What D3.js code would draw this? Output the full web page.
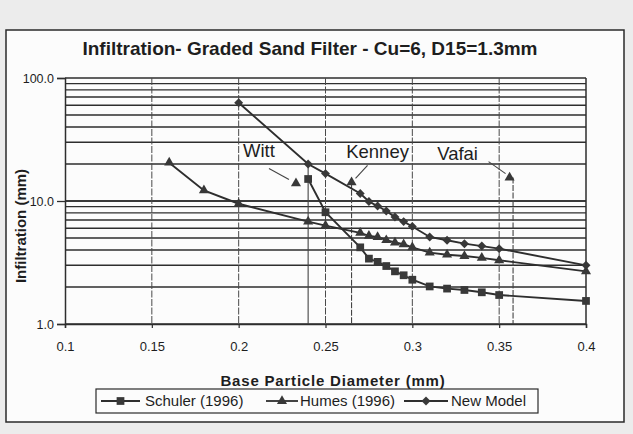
<!DOCTYPE html>
<html>
<head>
<meta charset="utf-8">
<script src="https://cdn.jsdelivr.net/npm/d3@7/dist/d3.min.js"></script>
<style>
    body { margin: 0; background: #ececec; }
    text { font-family: "Liberation Sans", Arial, sans-serif; fill: #1e1e1e; }
</style>
</head>
<body>
<svg id="chart" width="633" height="434"></svg>
<script>
(function(){
    "use strict";

    // values
    var schulerX = [0.24, 0.25, 0.27, 0.275, 0.28, 0.285, 0.29, 0.295, 0.30, 0.31, 0.32, 0.33, 0.34, 0.35, 0.40];
    var schulerY = [15.1, 8.1, 4.2, 3.4, 3.2, 2.96, 2.68, 2.49, 2.29, 2.02, 1.94, 1.89, 1.81, 1.72, 1.54];
    var humesX = [0.16, 0.18, 0.20, 0.24, 0.25, 0.27, 0.275, 0.28, 0.285, 0.29, 0.295, 0.30, 0.31, 0.32, 0.33, 0.34, 0.35, 0.40];
    var humesY = [20.5, 12.2, 9.5, 6.8, 6.3, 5.5, 5.2, 5.1, 4.8, 4.6, 4.45, 4.2, 3.8, 3.66, 3.57, 3.45, 3.3, 2.68];
    var modelX = [0.20, 0.24, 0.25, 0.27, 0.275, 0.28, 0.285, 0.29, 0.295, 0.30, 0.31, 0.32, 0.33, 0.34, 0.35, 0.40];
    var modelY = [63, 20, 16.7, 11.5, 9.9, 9.1, 8.3, 7.4, 6.8, 6.2, 5.1, 4.8, 4.5, 4.3, 4.1, 3.0];

    var noteNames = ["Witt", "Kenney", "Vafai"];
    var noteX = [0.233, 0.265, 0.356];
    var noteY = [13.9, 14.2, 15.5];
    var dropX = [0.24, 0.265, 0.358];
    var dropY = [20, 14.2, 15.5];

    var xTicks = [0.1, 0.15, 0.2, 0.25, 0.3, 0.35, 0.4];
    var xGrid = [0.15, 0.2, 0.25, 0.3, 0.35];
    var yTicks = [1, 10, 100];
    var seriesNames = ["Schuler (1996)", "Humes (1996)", "New Model"];

    var svg = d3.select("#chart");
    var ink = "#2e2e2e";

    // chart frame
    svg.append("rect")
        .attr("x", 6).attr("y", 30).attr("width", 618).attr("height", 392)
        .attr("fill", "#fcfcfc").attr("stroke", "#2a2a2a").attr("stroke-width", 1.5);

    var x = d3.scaleLinear().domain([0.1, 0.4]).range([65, 586]);
    var y = d3.scaleLog().domain([1, 100]).range([324, 78]);

    // horizontal grid, every minor log step
    var yGrid = [];
    [1, 10].forEach(function(dec) {
        for (var k = 1; k <= 10; k++) { yGrid.push(dec * k); }
    });
    svg.append("g").selectAll("line")
        .data(yGrid)
        .enter()
        .append("line")
        .attr("x1", x(0.1)).attr("x2", x(0.4))
        .attr("y1", function(d) { return y(d); })
        .attr("y2", function(d) { return y(d); })
        .attr("stroke", ink)
        .attr("stroke-width", 1.4);

    svg.append("g").selectAll("line")
        .data(xGrid)
        .enter()
        .append("line")
        .attr("x1", function(d) { return x(d); })
        .attr("x2", function(d) { return x(d); })
        .attr("y1", y(100)).attr("y2", y(1))
        .attr("stroke", "#4a4a4a")
        .attr("stroke-width", 1)
        .attr("stroke-dasharray", "7,1.5");

    // drop lines under the notes
    svg.append("g").selectAll("line")
        .data(dropX)
        .enter()
        .append("line")
        .attr("x1", function(d) { return x(d); })
        .attr("x2", function(d) { return x(d); })
        .attr("y1", function(d, i) { return y(dropY[i]); })
        .attr("y2", y(1))
        .attr("stroke", "#444")
        .attr("stroke-width", 1.1)
        .attr("stroke-dasharray", function(d, i) { return i === 0 ? null : "6,1.5"; });

    // axes
    var yAxis = d3.axisLeft(y).tickValues(yTicks).tickSize(8).tickFormat(d3.format(".1f"));
    var gy = svg.append("g").attr("transform", "translate(" + x(0.1) + ",0)").call(yAxis);
    gy.select(".domain").attr("stroke", ink).attr("stroke-width", 1.5);
    gy.selectAll(".tick line").attr("stroke", ink).attr("stroke-width", 1.3);
    gy.selectAll("text").attr("font-size", 12.5).attr("fill", "#1e1e1e").attr("x", -11).style("font-family", "Liberation Sans, Arial, sans-serif");

    var xAxis = d3.axisBottom(x).tickValues(xTicks).tickSize(4).tickFormat(function(d) { return String(d); });
    var gx = svg.append("g").attr("transform", "translate(0," + y(1) + ")").call(xAxis);
    gx.select(".domain").attr("stroke", ink).attr("stroke-width", 1.5);
    gx.selectAll(".tick line").attr("stroke", ink).attr("stroke-width", 1.2);
    gx.selectAll("text").attr("font-size", 13).attr("fill", "#1e1e1e").attr("y", 18).style("font-family", "Liberation Sans, Arial, sans-serif");

    // right border
    svg.append("line")
        .attr("x1", x(0.4)).attr("x2", x(0.4))
        .attr("y1", y(100)).attr("y2", y(1))
        .attr("stroke", ink).attr("stroke-width", 1.5);

    // series
    var series = [
        { name: seriesNames[0], xs: schulerX, ys: schulerY, type: "square" },
        { name: seriesNames[1], xs: humesX, ys: humesY, type: "triangle" },
        { name: seriesNames[2], xs: modelX, ys: modelY, type: "diamond" }
    ];

    function markerPath(type) {
        if (type === "square") return d3.symbol().type(d3.symbolSquare).size(60)();
        if (type === "triangle") return d3.symbol().type(d3.symbolTriangle).size(44)();
        return d3.symbol().type(d3.symbolSquare).size(40)();
    }
    function markerRot(type) { return type === "diamond" ? " rotate(45)" : ""; }

    var line = d3.line()
        .x(function(d) { return x(d[0]); })
        .y(function(d) { return y(d[1]); });

    series.forEach(function(s) {
        var pts = s.xs.map(function(v, i) { return [v, s.ys[i]]; });
        svg.append("path")
            .datum(pts)
            .attr("d", line)
            .attr("fill", "none")
            .attr("stroke", ink)
            .attr("stroke-width", 1.9);
        svg.append("g").selectAll("path")
            .data(pts)
            .enter()
            .append("path")
            .attr("d", markerPath(s.type))
            .attr("transform", function(d) { return "translate(" + x(d[0]) + "," + y(d[1]) + ")" + markerRot(s.type); })
            .attr("fill", "#383838");
    });

    // notes: triangle marker, arrow, label
    // [label dx, label dy, arrow start dx, dy, arrow end dx, dy]
    var noteOffset = [[-37, -26, -27, -15, -7, -4], [26, -24, 16, -17, 4, -4], [-52, -18, -21, -16, -4, -4]];
    noteNames.forEach(function(n, i) {
        var px = x(noteX[i]), py = y(noteY[i]);
        var o = noteOffset[i];
        svg.append("path")
            .attr("d", markerPath("triangle"))
            .attr("transform", "translate(" + px + "," + py + ")")
            .attr("fill", "#383838");
        svg.append("line")
            .attr("x1", px + o[2]).attr("y1", py + o[3])
            .attr("x2", px + o[4]).attr("y2", py + o[5])
            .attr("stroke", "#444").attr("stroke-width", 1.1);
        svg.append("text")
            .attr("x", px + o[0])
            .attr("y", py + o[1])
            .attr("text-anchor", "middle")
            .attr("font-size", 18.5)
            .text(n);
    });

    // titles
    svg.append("text")
        .attr("x", 310).attr("y", 55)
        .attr("text-anchor", "middle")
        .attr("font-size", 19).attr("font-weight", "bold")
        .text("Infiltration- Graded Sand Filter - Cu=6, D15=1.3mm");

    svg.append("text")
        .attr("transform", "translate(26,226) rotate(-90)")
        .attr("text-anchor", "middle")
        .attr("font-size", 15).attr("font-weight", "bold")
        .text("Infiltration (mm)");

    svg.append("text")
        .attr("x", 333).attr("y", 386)
        .attr("text-anchor", "middle")
        .attr("font-size", 15).attr("font-weight", "bold")
        .attr("letter-spacing", 0.8)
        .text("Base Particle Diameter (mm)");

    // legend
    var lg = svg.append("g");
    lg.append("rect")
        .attr("x", 96).attr("y", 389).attr("width", 442).attr("height", 24)
        .attr("fill", "#fcfcfc").attr("stroke", "#2a2a2a").attr("stroke-width", 1.2);
    var lgX1 = [101, 266, 404];
    var lgX2 = [140, 298, 448];
    var lgText = [145, 300, 451];
    series.forEach(function(s, i) {
        lg.append("line")
            .attr("x1", lgX1[i]).attr("x2", lgX2[i])
            .attr("y1", 401).attr("y2", 401)
            .attr("stroke", ink).attr("stroke-width", 1.8);
        lg.append("path")
            .attr("d", markerPath(s.type))
            .attr("transform", "translate(" + ((lgX1[i] + lgX2[i]) / 2) + ",401)" + markerRot(s.type))
            .attr("fill", "#383838");
        lg.append("text")
            .attr("x", lgText[i]).attr("y", 406)
            .attr("font-size", 15)
            .text(s.name);
    });
})();
</script>
</body>
</html>
